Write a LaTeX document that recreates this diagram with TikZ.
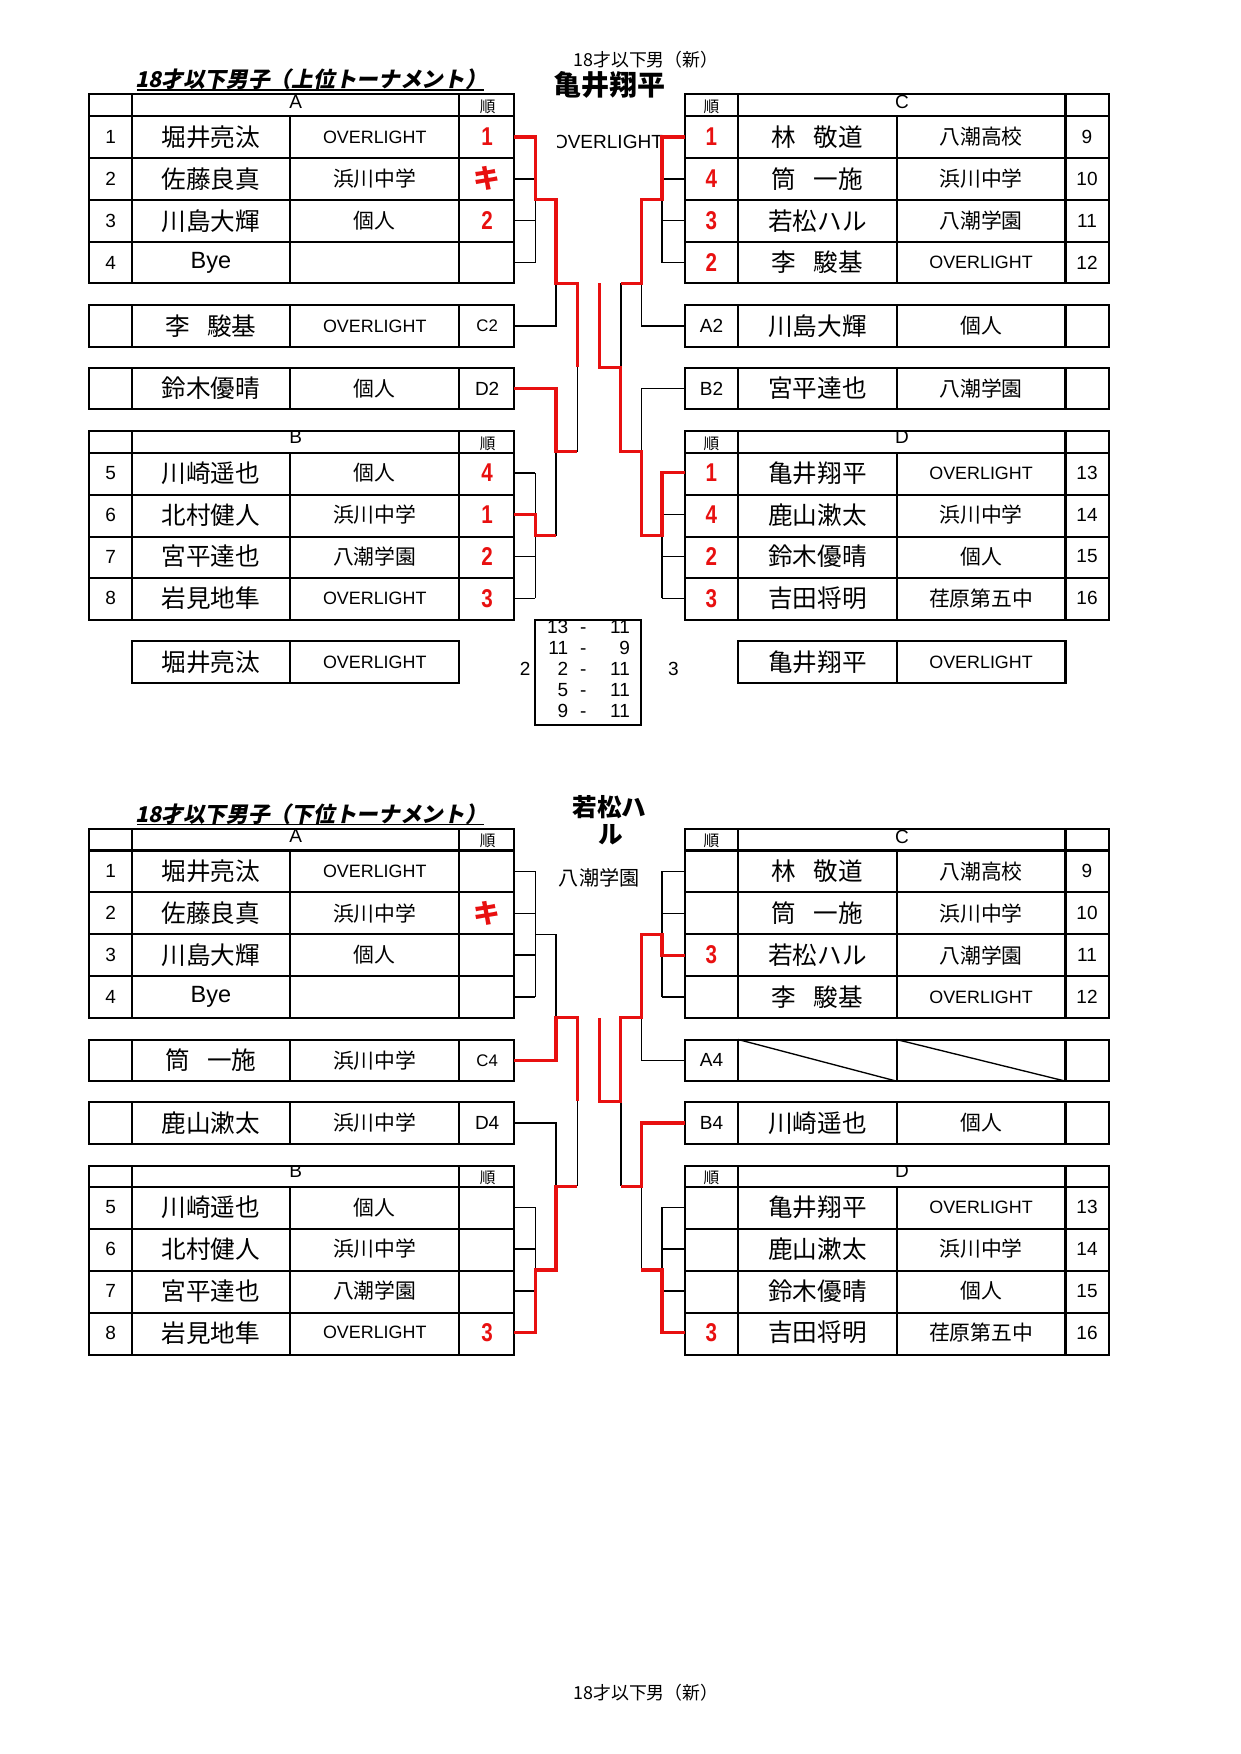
\documentclass[tikz,border=0pt]{standalone}
\usepackage{fontspec}
\setmainfont{Liberation Sans}
\newfontfamily\jp{Noto Sans CJK JP}
\newfontfamily\jpit{Noto Sans CJK JP}[FakeSlant=0.2]
\newfontfamily\rnum{Liberation Sans}[FakeStretch=0.8]
\definecolor{rd}{RGB}{232,16,16}
\newcommand\nmf{\jp\fontsize{11}{12}\selectfont}
\newcommand\tmf{\jp\fontsize{9.3}{10}\selectfont}
\newcommand\nof{\fontsize{8.5}{9}\selectfont}
\newcommand\hdf{\fontsize{8.5}{9}\selectfont}
\newcommand\OL{{\fontsize{8}{9}\selectfont OVERLIGHT}}
\newcommand\TM[1]{{\tmf #1}}
\newcommand\RK[1]{{\rnum\bfseries\fontsize{11.5}{12}\selectfont\color{rd}#1}}
\newcommand\KI{{\jp\bfseries\fontsize{12}{12}\selectfont\color{rd}キ}}
\newcommand\LL[1]{{\fontsize{8.5}{9}\selectfont #1}}
\newcommand\SL[1]{{\fontsize{7.5}{8}\selectfont #1}}
\newcommand\BYE{{\normalfont\fontsize{10.5}{11}\selectfont Bye}}
\newcommand\jsp{\hspace{0.7em}}
% group tables
\newcommand\LGroup[3]{%
  \pgfmathsetmacro\myhb{#1+19.4}\pgfmathsetmacro\mybt{#1+19.4+4*37.4}%
  \begin{scope}\clip (118,#1) rectangle (410.5,\myhb);
    \node[anchor=north,inner sep=0pt] at (264.25,#1+#3) {\hdf #2};\end{scope}
  \node[t] at (436,#1+11) {\jp\fontsize{7}{7}\selectfont 順};
  \draw[tb] (80,#1) rectangle (459.5,\mybt);
  \foreach \k in {0,1,2,3} {\draw[tb] (80,\myhb+\k*37.4) -- (459.5,\myhb+\k*37.4);}
  \draw[tb] (118,#1) -- (118,\mybt) (410.5,#1) -- (410.5,\mybt) (259,\myhb) -- (259,\mybt);}
\newcommand\RGroup[3]{%
  \pgfmathsetmacro\myhb{#1+19.4}\pgfmathsetmacro\mybt{#1+19.4+4*37.4}%
  \begin{scope}\clip (660,#1) rectangle (952.5,\myhb);
    \node[anchor=north,inner sep=0pt] at (806.25,#1+#3) {\hdf #2};\end{scope}
  \node[t] at (636,#1+11) {\jp\fontsize{7}{7}\selectfont 順};
  \draw[tb] (612,#1) rectangle (991,\mybt);
  \foreach \k in {0,1,2,3} {\draw[tb] (612,\myhb+\k*37.4) -- (991,\myhb+\k*37.4);}
  \draw[tb] (660,#1) -- (660,\mybt) (952.5,#1) -- (952.5,\mybt) (801.5,\myhb) -- (801.5,\mybt);}
\newcommand\LSingle[1]{%
  \draw[tb] (80,#1) rectangle (459.5,#1+37.2);
  \draw[tb] (118,#1) -- (118,#1+37.2) (259,#1) -- (259,#1+37.2) (410.5,#1) -- (410.5,#1+37.2);}
\newcommand\RSingle[1]{%
  \draw[tb] (612,#1) rectangle (991,#1+37.2);
  \draw[tb] (660,#1) -- (660,#1+37.2) (801.5,#1) -- (801.5,#1+37.2) (952.5,#1) -- (952.5,#1+37.2);}
\newcommand\Lrow[6]{%
  \node[t] (#1n) at (99,#2) {\nof #3};
  \node[t] (#1a) at (188.5,#2) {\nmf #4};
  \node[t] (#1t) at (335,#2) {#5};
  \node[t] (#1r) at (435.5,#2) {#6};
  \coordinate (#1) at (459.5,#2);}
\newcommand\Rrow[6]{%
  \node[t] (#1r) at (636,#2) {#3};
  \node[t] (#1a) at (730.75,#2) {\nmf #4};
  \node[t] (#1t) at (877,#2) {#5};
  \node[t] (#1n) at (971.75,#2) {\nof #6};
  \coordinate (#1) at (612,#2);}
\begin{document}
\begin{tikzpicture}[x=0.5pt,y=-0.5pt,
  tb/.style={line width=0.9pt,black},
  bl/.style={line width=0.6pt,black},
  rl/.style={line width=1.4pt,rd,line join=miter},
  t/.style={inner sep=0pt,anchor=center}]
\useasboundingbox (0,0) rectangle (1109,1568);
\fill[white] (0,0) rectangle (1109,1568);

% ================= TOP SECTION =================
\node[t] (hdr1) at (577.5,53.6) {\jp\fontsize{8}{9}\selectfont 18才以下男（新）};
\node[t] (title1) at (278,71) {\jpit\bfseries\fontsize{9.7}{10}\selectfont 18才以下男子（上位トーナメント）};
\draw[line width=0.8pt] (122.5,80.5) -- (433,80.5);
\node[t] (champ1) at (545,76) {\jp\bfseries\fontsize{12.5}{13}\selectfont 亀井翔平};
\begin{scope}\clip (498,100) rectangle (700,150);
  \node[anchor=east,inner sep=0pt] (champ1t) at (593,126.5) {\fontsize{8.5}{9}\selectfont OVERLIGHT};
\end{scope}

\LGroup{84.4}{A}{0.5}
\Lrow{TA1}{122.5}{1}{堀井亮汰}{\OL}{\RK{1}}
\Lrow{TA2}{159.9}{2}{佐藤良真}{\TM{浜川中学}}{\KI}
\Lrow{TA3}{197.3}{3}{川島大輝}{\TM{個人}}{\RK{2}}
\Lrow{TA4}{234.7}{4}{\BYE}{}{}
\LSingle{272.8}
\Lrow{TC2}{291.4}{}{李\jsp 駿基}{\OL}{\SL{C2}}
\LSingle{328.8}
\Lrow{TD2s}{347.4}{}{鈴木優晴}{\TM{個人}}{\LL{D2}}
\LGroup{385.5}{B}{-1.5}
\Lrow{TB1}{422.7}{5}{川崎遥也}{\TM{個人}}{\RK{4}}
\Lrow{TB2}{460.1}{6}{北村健人}{\TM{浜川中学}}{\RK{1}}
\Lrow{TB3}{497.5}{7}{宮平達也}{\TM{八潮学園}}{\RK{2}}
\Lrow{TB4}{534.9}{8}{岩見地隼}{\OL}{\RK{3}}

\RGroup{84.4}{C}{0.5}
\Rrow{TCr1}{122.5}{\RK{1}}{林\jsp 敬道}{\TM{八潮高校}}{9}
\Rrow{TCr2}{159.9}{\RK{4}}{筒\jsp 一施}{\TM{浜川中学}}{10}
\Rrow{TCr3}{197.3}{\RK{3}}{若松ハル}{\TM{八潮学園}}{11}
\Rrow{TCr4}{234.7}{\RK{2}}{李\jsp 駿基}{\OL}{12}
\RSingle{272.8}
\Rrow{TA2s}{291.4}{\LL{A2}}{川島大輝}{\TM{個人}}{}
\RSingle{328.8}
\Rrow{TB2s}{347.4}{\LL{B2}}{宮平達也}{\TM{八潮学園}}{}
\RGroup{385.5}{D}{-1.5}
\Rrow{TDr1}{422.7}{\RK{1}}{亀井翔平}{\OL}{13}
\Rrow{TDr2}{460.1}{\RK{4}}{鹿山漱太}{\TM{浜川中学}}{14}
\Rrow{TDr3}{497.5}{\RK{2}}{鈴木優晴}{\TM{個人}}{15}
\Rrow{TDr4}{534.9}{\RK{3}}{吉田将明}{\TM{荏原第五中}}{16}

% result boxes
\draw[tb] (118,573.3) rectangle (410.5,610.6) (259,573.3) -- (259,610.6);
\node[t] (w1a) at (188.5,592) {\nmf 堀井亮汰};
\node[t] (w1t) at (335,592) {\OL};
\draw[tb] (660,573.3) rectangle (952.5,610.6) (801.5,573.3) -- (801.5,610.6);
\node[t] (w2a) at (730.75,592) {\nmf 亀井翔平};
\node[t] (w2t) at (877,592) {\OL};

% score box
\draw[line width=0.75pt] (478.5,554.5) rectangle (573.3,648.4);
\begin{scope}\clip (478.5,554.5) rectangle (573.3,648.4);
\foreach \a/\b [count=\i from 0] in {13/11,11/9,2/11,5/11,9/11} {
  \node[anchor=base east,inner sep=0pt] (sl\i) at (508.3,566.6+\i*18.6) {\nof \a};
  \node[anchor=base,inner sep=0pt] (sd\i) at (521.5,566.6+\i*18.6) {\nof -};
  \node[anchor=base east,inner sep=0pt] (sr\i) at (563.5,566.6+\i*18.6) {\nof \b};
}
\end{scope}
\node[t] (sc2) at (469.5,598.3) {\nof 2};
\node[t] (sc3) at (602,598.3) {\nof 3};

% bracket (top) black
\foreach \c in {TA2,TA3,TA4,TB1,TB3,TB4} {\draw[bl] (\c) -- ++(19,0);}
\foreach \c in {TCr2,TCr3,TCr4,TDr2,TDr3,TDr4} {\draw[bl] (\c) -- ++(-20.2,0);}
\draw[bl] (478.5,122.5) -- (478.5,234.7);
\draw[bl] (TC2) -- (497,291.4) -- (497,253.4);
\draw[bl] (516,328.5) -- (516,404);
\draw[bl] (497,404) -- (497,478.8);
\draw[bl] (478.5,422.7) -- (478.5,534.9);
\draw[bl] (555,253.4) -- (555,328.5);
\draw[bl] (591.8,122.5) -- (591.8,234.7);
\draw[bl] (TA2s) -- (573.3,291.4) -- (573.3,253.4);
\draw[bl] (TB2s) -- (573.3,347.4) -- (573.3,404);
\draw[bl] (591.8,422.7) -- (591.8,534.9);
% bracket (top) red
\draw[rl] (TA1) -- (478.5,122.5) -- (478.5,178.6) -- (497,178.6) -- (497,253.4) -- (516,253.4) -- (516,328.5);
\draw[rl] (TD2s) -- (497,347.4) -- (497,404) -- (516,404);
\draw[rl] (TB2) -- (478.5,460.1) -- (478.5,478.8) -- (497,478.8);
\draw[rl] (535.7,253.4) -- (535.7,328.5) -- (555,328.5) -- (555,404) -- (573.3,404) -- (573.3,478.8) -- (591.8,478.8) -- (591.8,422.7) -- (TDr1);
\draw[rl] (TCr1) -- (591.8,122.5) -- (591.8,178.6) -- (573.3,178.6) -- (573.3,253.4) -- (555,253.4);

% ================= BOTTOM SECTION =================
\node[t] (title2) at (278,727.5) {\jpit\bfseries\fontsize{9.7}{10}\selectfont 18才以下男子（下位トーナメント）};
\draw[line width=0.8pt] (122.5,737) -- (433,737);
\node[t] (champ2a) at (545,722) {\jp\bfseries\fontsize{11}{12}\selectfont 若松ハ};
\node[t] (champ2b) at (546,746.5) {\jp\bfseries\fontsize{11}{12}\selectfont ル};
\node[t] (champ2t) at (535.6,785) {\jp\fontsize{9}{10}\selectfont 八潮学園};

\LGroup{740.9}{A}{0.5}
\Lrow{BA1}{779}{1}{堀井亮汰}{\OL}{}
\Lrow{BA2}{816.4}{2}{佐藤良真}{\TM{浜川中学}}{\KI}
\Lrow{BA3}{853.8}{3}{川島大輝}{\TM{個人}}{}
\Lrow{BA4}{891.2}{4}{\BYE}{}{}
\LSingle{929.3}
\Lrow{BC4}{947.9}{}{筒\jsp 一施}{\TM{浜川中学}}{\SL{C4}}
\LSingle{985.3}
\Lrow{BD4}{1003.9}{}{鹿山漱太}{\TM{浜川中学}}{\LL{D4}}
\LGroup{1042}{B}{-1.5}
\Lrow{BB1}{1079.2}{5}{川崎遥也}{\TM{個人}}{}
\Lrow{BB2}{1116.6}{6}{北村健人}{\TM{浜川中学}}{}
\Lrow{BB3}{1154}{7}{宮平達也}{\TM{八潮学園}}{}
\Lrow{BB4}{1191.4}{8}{岩見地隼}{\OL}{\RK{3}}

\RGroup{740.9}{C}{0.5}
\Rrow{BCr1}{779}{}{林\jsp 敬道}{\TM{八潮高校}}{9}
\Rrow{BCr2}{816.4}{}{筒\jsp 一施}{\TM{浜川中学}}{10}
\Rrow{BCr3}{853.8}{\RK{3}}{若松ハル}{\TM{八潮学園}}{11}
\Rrow{BCr4}{891.2}{}{李\jsp 駿基}{\OL}{12}
\RSingle{929.3}
\Rrow{BA4s}{947.9}{\LL{A4}}{}{}{}
\draw[bl] (660,929.3) -- (801.5,966.5) (801.5,929.3) -- (952.5,966.5);
\RSingle{985.3}
\Rrow{BB4s}{1003.9}{\LL{B4}}{川崎遥也}{\TM{個人}}{}
\RGroup{1042}{D}{-1.5}
\Rrow{BDr1}{1079.2}{}{亀井翔平}{\OL}{13}
\Rrow{BDr2}{1116.6}{}{鹿山漱太}{\TM{浜川中学}}{14}
\Rrow{BDr3}{1154}{}{鈴木優晴}{\TM{個人}}{15}
\Rrow{BDr4}{1191.4}{\RK{3}}{吉田将明}{\TM{荏原第五中}}{16}

% bracket (bottom) black
\foreach \c in {BA1,BA2,BA3,BA4,BB1,BB2,BB3} {\draw[bl] (\c) -- ++(19,0);}
\foreach \c in {BCr1,BCr2,BCr4,BDr1,BDr2,BDr3} {\draw[bl] (\c) -- ++(-20.2,0);}
\draw[bl] (478.5,779) -- (478.5,891.2);
\draw[bl] (478.5,835.1) -- (497,835.1) -- (497,909.9);
\draw[bl] (BD4) -- (497,1003.9) -- (497,1060.5);
\draw[bl] (516,984.5) -- (516,1060.5);
\draw[bl] (478.5,1079.2) -- (478.5,1135.3);
\draw[bl] (555,984.5) -- (555,1060.5);
\draw[bl] (591.8,779) -- (591.8,891.2);
\draw[bl] (BA4s) -- (573.3,947.9) -- (573.3,909.9);
\draw[bl] (573.3,1060.5) -- (573.3,1135.3);
\draw[bl] (591.8,1079.2) -- (591.8,1135.3);
% bracket (bottom) red
\draw[rl] (BC4) -- (497,947.9) -- (497,909.9) -- (516,909.9) -- (516,984.5);
\draw[rl] (BB4) -- (478.5,1191.4) -- (478.5,1135.3) -- (497,1135.3) -- (497,1060.5) -- (516,1060.5);
\draw[rl] (535.7,909.9) -- (535.7,984.5) -- (555,984.5) -- (555,909.9) -- (573.3,909.9) -- (573.3,835.1) -- (591.8,835.1) -- (591.8,853.8) -- (BCr3);
\draw[rl] (BB4s) -- (573.3,1003.9) -- (573.3,1060.5) -- (555,1060.5);
\draw[rl] (573.3,1135.3) -- (591.8,1135.3) -- (591.8,1191.4) -- (BDr4);

\node[t] (footer) at (577.5,1513.5) {\jp\fontsize{8}{9}\selectfont 18才以下男（新）};
\end{tikzpicture}
\end{document}
